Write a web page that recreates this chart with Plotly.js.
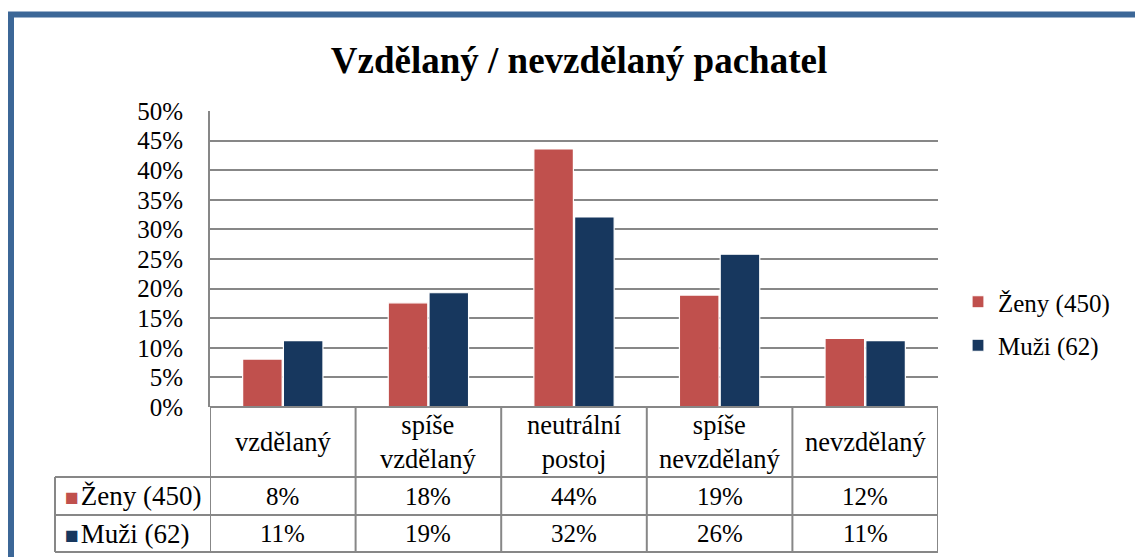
<!DOCTYPE html>
<html>
<head>
<meta charset="utf-8">
<script src="https://cdn.plot.ly/plotly-3.0.1.min.js"></script>
<style>
  html, body { margin: 0; padding: 0; background: #fff; }
  #chart { width: 1135px; height: 557px; }
</style>
</head>
<body>
<div id="chart"></div>
<script>
// data
const categories = ['vzdělaný', 'spíše<br>vzdělaný', 'neutrální<br>postoj', 'spíše<br>nevzdělaný', 'nevzdělaný'];
const zenyValues = [0.081, 0.176, 0.436, 0.189, 0.116];
const muziValues = [0.112, 0.193, 0.321, 0.258, 0.112];
const zenyLabels = ['8%', '18%', '44%', '19%', '12%'];
const muziLabels = ['11%', '19%', '32%', '26%', '11%'];
const seriesNames = ['Ženy (450)', 'Muži (62)'];

const RED = '#C0504D';
const NAVY = '#17375E';
const GRID = '#878787';
const FONT = 'Liberation Serif, Times New Roman, serif';

// pixel helpers (plot area: x 210..938, y 111..407)
const L = 210, R = 938, T = 111, B = 407;
const px = x => (x - L) / (R - L);
const py = y => (B - y) / (B - T);

const xs = categories.map((c, i) => i);

const data = [
  {
    x: xs, y: zenyValues, name: seriesNames[0], type: 'bar', legendgroup: 'z',
    marker: {color: RED, line: {color: '#fff', width: 1.2}},
    hoverinfo: 'none'
  },
  {
    x: xs, y: muziValues, name: seriesNames[1], type: 'bar', legendgroup: 'm',
    marker: {color: NAVY, line: {color: '#fff', width: 1.2}},
    hoverinfo: 'none'
  }
];

// table grid under the plot
const shapes = [];
const line = {color: GRID, width: 2};
const rowLines = [477, 515, 552];
rowLines.forEach(y => {
  shapes.push({type: 'line', xref: 'paper', yref: 'paper', x0: px(55), x1: 1, y0: py(y), y1: py(y), line: line});
});
shapes.push({type: 'line', xref: 'paper', yref: 'paper', x0: 0, x1: 1, y0: 0, y1: 0, line: line});
for (let i = 0; i <= categories.length; i++) {
  shapes.push({type: 'line', xref: 'x', yref: 'paper', x0: i - 0.5, x1: i - 0.5, y0: 0, y1: py(552), line: line});
}
shapes.push({type: 'line', xref: 'paper', yref: 'paper', x0: px(55), x1: px(55), y0: py(477), y1: py(552), line: line});

// blue frame round the chart
shapes.push({
  type: 'rect', xref: 'paper', yref: 'paper',
  x0: px(11), x1: px(1150), y0: py(580), y1: py(14.5),
  line: {color: '#3C6797', width: 6}, layer: 'below'
});

const annotations = [];
categories.forEach((c, i) => {
  annotations.push({x: i, xref: 'x', y: py(442), yref: 'paper', yanchor: 'middle', text: c, showarrow: false,
    font: {size: 26.5, color: '#000', family: FONT}, align: 'center'});
  annotations.push({x: i, xref: 'x', y: py(496), yref: 'paper', yanchor: 'middle', text: zenyLabels[i], showarrow: false,
    font: {size: 25, color: '#000', family: FONT}});
  annotations.push({x: i, xref: 'x', y: py(533.5), yref: 'paper', yanchor: 'middle', text: muziLabels[i], showarrow: false,
    font: {size: 25, color: '#000', family: FONT}});
});
[[seriesNames[0], RED, 496], [seriesNames[1], NAVY, 533.5]].forEach(([name, col, y]) => {
  annotations.push({x: px(63), xref: 'paper', xanchor: 'left', y: py(y), yref: 'paper', yanchor: 'middle', showarrow: false,
    text: '<span style="color:' + col + ';font-size:23px">■\u200A</span>' + name,
    font: {size: 27, color: '#000', family: FONT}});
});

const layout = {
  width: 1135,
  height: 557,
  margin: {l: L, r: 1135 - R, t: T, b: 557 - B},
  paper_bgcolor: '#fff',
  plot_bgcolor: '#fff',
  font: {family: FONT, color: '#000'},
  title: {
    text: '<b>Vzdělaný / nevzdělaný pachatel</b>',
    font: {size: 37, family: FONT, color: '#000'},
    x: px(579), xref: 'paper', xanchor: 'center',
    y: 1 - 60 / 557, yanchor: 'middle'
  },
  barmode: 'group',
  bargap: 0.44,
  bargroupgap: 0.03,
  showlegend: true,
  legend: {
    x: px(958), xanchor: 'left', y: py(279), yanchor: 'top',
    font: {size: 25, family: FONT, color: '#000'},
    traceorder: 'grouped', tracegroupgap: 8, itemwidth: 30
  },
  xaxis: {
    range: [-0.5, categories.length - 0.5],
    showticklabels: false, showgrid: false, zeroline: false, showline: false,
    fixedrange: true
  },
  yaxis: {
    range: [0, 0.5], dtick: 0.05, tickformat: '.0%',
    showgrid: true, gridcolor: GRID, gridwidth: 2,
    zeroline: false, showline: true, linecolor: GRID, linewidth: 2,
    ticks: '', ticklabelstandoff: 20,
    tickfont: {size: 25, family: FONT, color: '#000'},
    fixedrange: true
  },
  shapes: shapes,
  annotations: annotations
};

Plotly.newPlot('chart', data, layout, {displayModeBar: false, staticPlot: true});
</script>
</body>
</html>
